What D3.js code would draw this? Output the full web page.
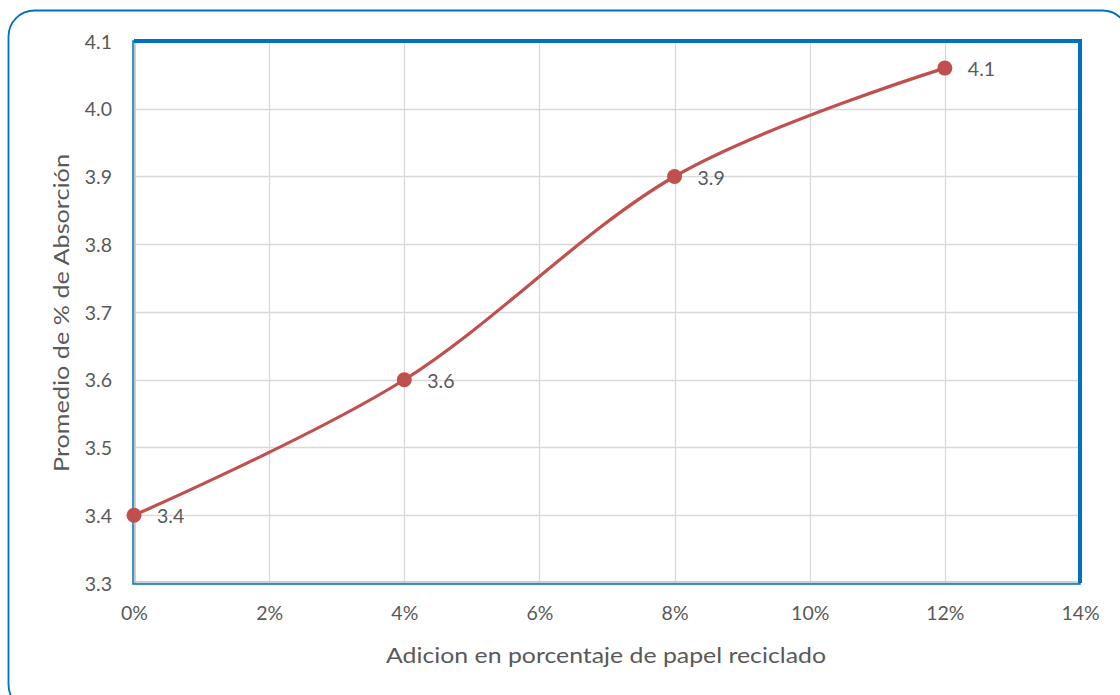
<!DOCTYPE html>
<html>
<head>
<meta charset="utf-8">
<script src="https://cdn.jsdelivr.net/npm/d3@7/dist/d3.min.js"></script>
<style>
  html, body { margin: 0; padding: 0; background: #fff; }
  svg { display: block; }
  text { font-family: Lato, "Open Sans", sans-serif; fill: #595959; }
</style>
</head>
<body>
<svg id="chart" width="1120" height="695"></svg>
<script>
const xValues = [0, 4, 8, 12];
const yValues = [3.40, 3.60, 3.90, 4.06];
const pointLabels = ["3.4", "3.6", "3.9", "4.1"];
const xTicks = [0, 2, 4, 6, 8, 10, 12, 14];
const yTicks = [3.3, 3.4, 3.5, 3.6, 3.7, 3.8, 3.9, 4.0, 4.1];
const xTitle = "Adicion en porcentaje de papel reciclado";
const yTitle = "Promedio de % de Absorción";

const svg = d3.select("#chart");
const m = { left: 134, right: 1080, top: 41, bottom: 583 };

// outer rounded frame
svg.append("rect")
  .attr("x", 8.5).attr("y", 10.5)
  .attr("width", 1120).attr("height", 700)
  .attr("rx", 26).attr("ry", 26)
  .attr("fill", "#fff")
  .attr("stroke", "#0070C0").attr("stroke-width", 1.8);

const x = d3.scaleLinear().domain([0, 14]).range([m.left, m.right]);
const y = d3.scaleLinear().domain([3.3, 4.1]).range([m.bottom, m.top]);

// gridlines
const g = svg.append("g");
g.selectAll("line.h").data(yTicks).join("line")
  .attr("x1", m.left).attr("x2", m.right)
  .attr("y1", d => Math.round(y(d)) + 0.5).attr("y2", d => Math.round(y(d)) + 0.5)
  .attr("stroke", "#D9D9D9").attr("stroke-width", 1.3);
g.selectAll("line.v").data(xTicks).join("line")
  .attr("y1", m.top).attr("y2", m.bottom)
  .attr("x1", d => Math.round(x(d)) + 0.5).attr("x2", d => Math.round(x(d)) + 0.5)
  .attr("stroke", "#D9D9D9").attr("stroke-width", 1.3);

// axis lines (grey) inside at left/bottom
svg.append("line").attr("x1", m.left + 1).attr("x2", m.left + 1).attr("y1", m.top).attr("y2", m.bottom)
  .attr("stroke", "#BFBFBF").attr("stroke-width", 1.5);
svg.append("line").attr("x1", m.left).attr("x2", m.right).attr("y1", m.bottom - 1).attr("y2", m.bottom - 1)
  .attr("stroke", "#BFBFBF").attr("stroke-width", 1.5);

// plot area border
svg.append("path")
  .attr("d", `M${m.left - 1},${m.bottom + 1} L${m.left - 1},${m.top} L${m.right},${m.top} L${m.right},${m.bottom + 1} Z`)
  .attr("fill", "none").attr("stroke", "#0070C0").attr("stroke-width", 1.5);
svg.append("path")
  .attr("d", `M${m.left},${m.top} L${m.right},${m.top} L${m.right},${m.bottom}`)
  .attr("fill", "none").attr("stroke", "#0070C0").attr("stroke-width", 4);

// axes labels via d3 axes
const yAxis = d3.axisLeft(y).tickValues(yTicks).tickSize(0).tickPadding(22).tickFormat(d3.format(".1f"));
const ya = svg.append("g").attr("transform", `translate(${m.left},0)`).call(yAxis);
ya.select(".domain").remove();
ya.selectAll("text").style("font-size", "19.5px").attr("fill", "#595959").attr("dy", "0.36em");

const xAxis = d3.axisBottom(x).tickValues(xTicks).tickSize(0).tickPadding(23).tickFormat(d => d + "%");
const xa = svg.append("g").attr("transform", `translate(0,${m.bottom})`).call(xAxis);
xa.select(".domain").remove();
xa.selectAll("text").style("font-size", "19.5px").attr("fill", "#595959");

// line
const pts = xValues.map((v, i) => [v, yValues[i]]);
const line = d3.line().x(d => x(d[0])).y(d => y(d[1])).curve(d3.curveCatmullRom.alpha(0));
svg.append("path").datum(pts).attr("d", line)
  .attr("fill", "none").attr("stroke", "#C0504D").attr("stroke-width", 3.2);

svg.selectAll("circle.pt").data(pts).join("circle")
  .attr("cx", d => x(d[0])).attr("cy", d => y(d[1])).attr("r", 7.5)
  .attr("fill", "#C0504D");

svg.selectAll("text.lbl").data(pts).join("text")
  .attr("x", d => x(d[0]) + 23).attr("y", d => y(d[1]) + 8)
  .style("font-size", "19.5px").attr("fill", "#404040")
  .text((d, i) => pointLabels[i]);

// titles
svg.append("text").attr("x", 606).attr("y", 663)
  .attr("text-anchor", "middle").style("font-size", "21.5px")
  .attr("textLength", 440).attr("lengthAdjust", "spacingAndGlyphs").text(xTitle);
svg.append("text").attr("transform", `translate(69,313) rotate(-90)`)
  .attr("text-anchor", "middle").style("font-size", "21.5px")
  .attr("textLength", 318).attr("lengthAdjust", "spacingAndGlyphs").text(yTitle);
</script>
</body>
</html>
